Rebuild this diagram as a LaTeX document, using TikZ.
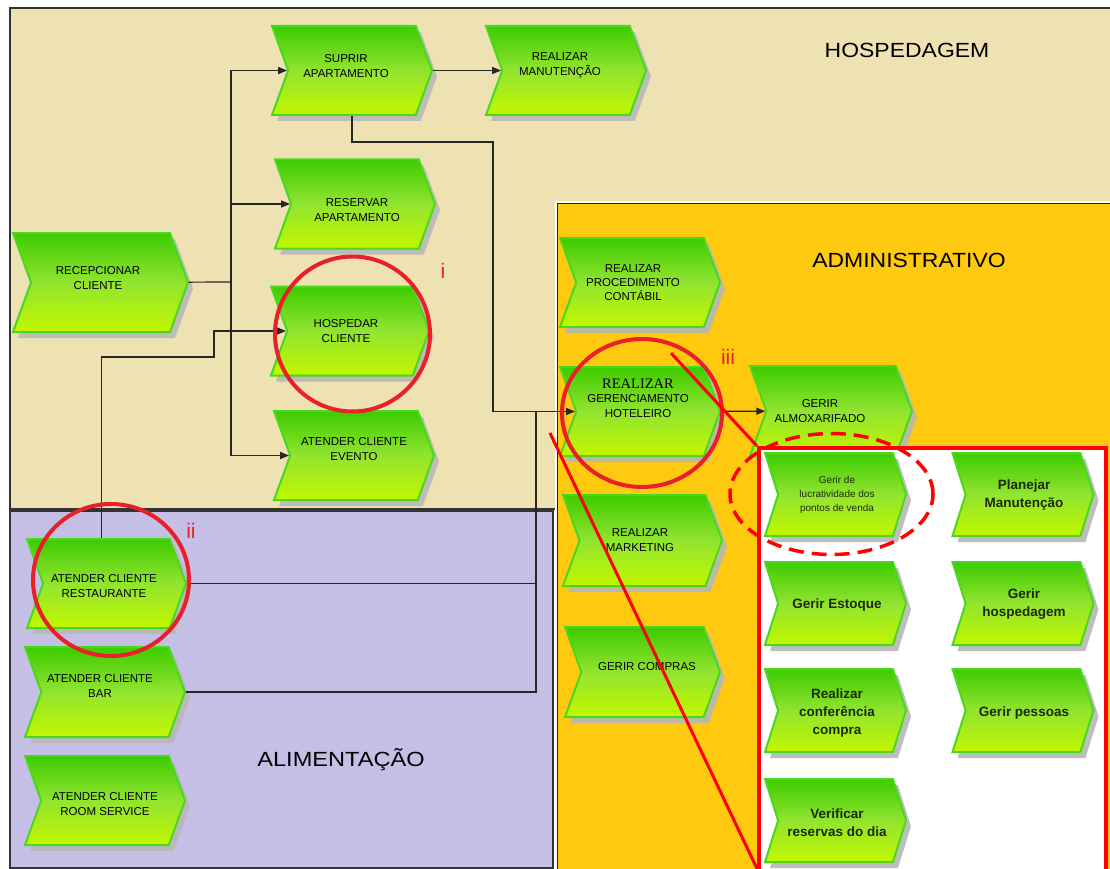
\documentclass[tikz,border=0pt]{standalone}
\usepackage{fontspec}
\usepackage{graphicx}
\setmainfont{Liberation Sans}
\newfontfamily\serifz{Liberation Serif}
\usetikzlibrary{shapes.symbols,shapes.geometric,shadows,arrows.meta}
\definecolor{hospbg}{HTML}{EFE2B2}
\definecolor{alimbg}{HTML}{C6BFE5}
\definecolor{admbg}{HTML}{FFC90F}
\definecolor{gtop}{HTML}{3DCB00}
\definecolor{gmid}{HTML}{92E430}
\definecolor{gbot}{HTML}{C2F700}
\definecolor{gedge}{HTML}{4AD81E}
\definecolor{circred}{HTML}{E8202A}
\definecolor{dgreen}{HTML}{1C2A06}
\definecolor{shadowgray}{HTML}{B8B8B8}
\tikzset{
  chev/.style={shape=signal, signal from=west, signal to=east, signal pointer angle=140,
    minimum width=160, minimum height=89, inner sep=0, draw=gedge, line width=2,
    top color=gtop, bottom color=gbot, middle color=gmid,
    drop shadow={shadow xshift=5pt, shadow yshift=-6pt, fill=shadowgray, opacity=0.9}},
  dchev/.style={chev, minimum width=141, minimum height=83, signal pointer angle=145},
  ptext/.style={font=\fontsize{11.5}{15}\selectfont, align=center, inner sep=0, text=black},
  dtext/.style={font=\bfseries\fontsize{13.5}{18}\selectfont, align=center, inner sep=0, text=dgreen},
  ttl/.style={font=\fontsize{20.5}{24}\selectfont, inner sep=0, text=black},
  conn/.style={draw=black!85, line width=1.2},
  arr/.style={conn, -{Triangle[length=9pt,width=7pt]}},
  redc/.style={draw=circred, line width=4, ellipse, inner sep=0, fill=none},
  lbl/.style={text=circred, font=\fontsize{21}{24}\selectfont, inner sep=0},
}
\begin{document}
\begin{tikzpicture}[x=1pt,y=-1pt]
\useasboundingbox (0,0) rectangle (1110,869);
\clip (0,0) rectangle (1110,869);
\fill[white] (0,0) rectangle (1110,869);
% panels
\draw[draw=black!80, line width=1.2, fill=hospbg] (10,8) rectangle (1114,509);
\draw[draw=black!80, line width=1.2, fill=alimbg] (10,511) rectangle (553,868);
\draw[draw=black!85, line width=0.9, double=white, double distance=1.2, fill=admbg] (556,202) rectangle (1116,875);
\node[ttl] (thosp) at (907,50) {\scalebox{1.12}[1]{HOSPEDAGEM}};
\node[ttl] (tadm) at (909,260) {\scalebox{1.12}[1]{ADMINISTRATIVO}};
\node[ttl] (talim) at (341,760) {\scalebox{1.15}[1]{ALIMENTAÇÃO}};
% hospedagem nodes
\node[chev] (suprir) at (352,70.5) {};
\node[ptext] (suprir-t) at (346,66) {SUPRIR\\APARTAMENTO};
\node[chev] (manut) at (566,70.5) {};
\node[ptext] (manut-t) at (560,65) {REALIZAR\\MANUTENÇÃO};
\node[chev] (reservar) at (355,204) {};
\node[ptext] (reservar-t) at (357,210) {RESERVAR\\APARTAMENTO};
\node[chev, minimum width=175, minimum height=99] (recep) at (100.5,282.5) {};
\node[ptext] (recep-t) at (98,278) {RECEPCIONAR\\CLIENTE};
\node[chev, minimum width=158] (hospedar) at (350,331) {};
\node[ptext] (hospedar-t) at (346,331) {HOSPEDAR\\CLIENTE};
\node[chev] (evento) at (354,455.5) {};
\node[ptext] (evento-t) at (354,449) {ATENDER CLIENTE\\EVENTO};
% alimentacao nodes
\node[chev, minimum width=159] (restaurante) at (106.5,583.5) {};
\node[ptext] (restaurante-t) at (104,586) {ATENDER CLIENTE\\RESTAURANTE};
\node[chev, minimum height=90] (bar) at (105,692) {};
\node[ptext] (bar-t) at (100,686) {ATENDER CLIENTE\\BAR};
\node[chev] (room) at (105,800.5) {};
\node[ptext] (room-t) at (105,804) {ATENDER CLIENTE\\ROOM SERVICE};
% administrativo nodes
\node[chev] (contabil) at (640,282.5) {};
\node[ptext, font=\fontsize{11.5}{14}\selectfont] (contabil-t) at (633,283) {REALIZAR\\PROCEDIMENTO\\CONTÁBIL};
\node[chev] (gerenc) at (640,411.5) {};
\node[ptext, font=\fontsize{11.5}{14.5}\selectfont] (gerenc-t) at (638,398) {{\serifz\fontsize{14.5}{14.5}\selectfont REALIZAR}\\GERENCIAMENTO\\HOTELEIRO};
\node[chev, minimum width=162, minimum height=90] (almox) at (831,411) {};
\node[ptext] (almox-t) at (820,411) {GERIR\\ALMOXARIFADO};
\node[chev, minimum width=159, minimum height=91] (marketing) at (642.5,540.5) {};
\node[ptext] (marketing-t) at (640,540) {REALIZAR\\MARKETING};
\node[chev, minimum width=155, minimum height=90] (compras) at (642.5,672) {};
\node[ptext] (compras-t) at (647,667) {GERIR COMPRAS};
% connectors
\coordinate (tr) at (231,282);
\draw[conn] (recep) -- (tr);
\draw[arr] (tr) |- (suprir);
\draw[arr] (tr) |- (reservar);
\draw[arr] (tr) |- (evento);
\draw[arr] (suprir) -- (manut);
\draw[arr] (suprir.south) |- (493,142) |- (gerenc);
\coordinate (jn) at (536,411.5);
\draw[conn] (bar) -| (jn);
\draw[conn] (restaurante) -- (restaurante -| jn);
\draw[arr] ([xshift=-5pt]restaurante.north) |- (214,357) |- (hospedar);
\draw[arr] (gerenc) -- (almox);
% detail (zoom) box
\node[draw=red, line width=3.5, fill=white, minimum width=347, minimum height=440, anchor=north west, inner sep=0] (zoombox) at (757,446) {};
\node[dchev] (lucr) at (835.5,494.5) {};
\node[dtext, font=\fontsize{10}{14}\selectfont] (lucr-t) at (837,495) {Gerir de\\lucratividade dos\\pontos de venda};
\node[dchev] (planejar) at (1023,494.5) {};
\node[dtext] (planejar-t) at (1024,495.5) {Planejar\\Manutenção};
\node[dchev] (estoque) at (835.5,603.5) {};
\node[dtext] (estoque-t) at (837,605) {Gerir Estoque};
\node[dchev] (hosp2) at (1023,603.5) {};
\node[dtext] (hosp2-t) at (1024,604) {Gerir\\hospedagem};
\node[dchev] (confer) at (835.5,710.5) {};
\node[dtext] (confer-t) at (837,713) {Realizar\\conferência\\compra};
\node[dchev] (pessoas) at (1023,710.5) {};
\node[dtext] (pessoas-t) at (1024,713) {Gerir pessoas};
\node[dchev] (verificar) at (835.5,820.5) {};
\node[dtext] (verificar-t) at (837,823) {Verificar\\reservas do dia};
% highlights
\node[redc, minimum width=155, minimum height=155] (ci) at (352.5,334) {};
\node[redc, minimum width=156, minimum height=152] (cii) at (111,580) {};
\node[redc, minimum width=160, minimum height=148] (ciii) at (642,413) {};
\node[lbl] (li) at (443,271) {i};
\node[lbl] (lii) at (191,531) {ii};
\node[lbl] (liii) at (728,357) {iii};
\node[draw=red, ellipse, dash pattern=on 15pt off 8pt, line width=3.5, minimum width=203, minimum height=121, inner sep=0] (dell) at (831.5,494) {};
\coordinate (za) at (671,353);
\coordinate (zb) at (550,433);
\coordinate (zc) at (760,875);
\draw[red, line width=3] (za) -- (zoombox.north west);
\draw[red, line width=3] (zb) -- (zc);
\end{tikzpicture}
\end{document}
